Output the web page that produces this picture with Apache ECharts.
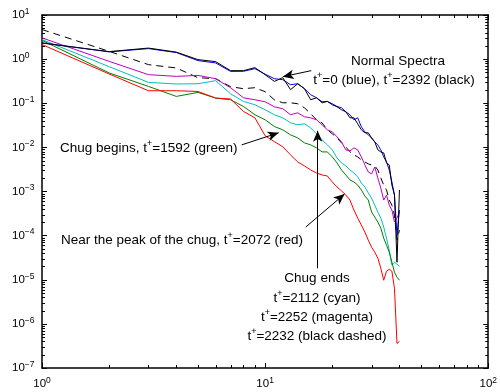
<!DOCTYPE html>
<html><head><meta charset="utf-8">
<script src="https://cdn.jsdelivr.net/npm/echarts@6/dist/echarts.min.js"></script>
<style>html,body{margin:0;padding:0;background:#fff}#c{width:500px;height:392px}</style>
</head><body><div id="c"></div>
<script>
// wavenumber k (x axis)
const wavenumber = [1,2,3,4,5,6,7,8,9,10,11,12,13,14,15,16,17,18,19,20,21,22,23,24,25,26,27,28,29,30,31,32,33,34,35,36,37,38,39,40];
// spectra
const blueT0 = [2.34,1.46,1.73,1.41,0.925,0.82,0.528,0.53,0.608,0.456,0.36,0.342,0.263,0.277,0.214,0.156,0.133,0.108,0.11,0.0975,0.0846,0.079,0.064,0.0548,0.0422,0.0468,0.0292,0.0225,0.0192,0.0164,0.0133,0.0114,0.00877,0.00608,0.00468,0.00308,0.00164,0.00083,0.000103,0.00038];
const blackT2392 = [2.31,1.48,1.78,1.44,0.975,0.877,0.548,0.548,0.641,0.444,0.313,0.38,0.203,0.277,0.214,0.12,0.133,0.1025,0.11,0.0925,0.0832,0.0712,0.064,0.0468,0.0468,0.0342,0.025,0.0214,0.0214,0.0164,0.0133,0.00877,0.0079,0.0075,0.00444,0.004,0.0014,0.00083,0.000025,0.00108];
const dashedT2232 = [4.68,1.50,0.75,0.63,0.38,0.36,0.237,0.214,0.225,0.183,0.12,0.1025,0.1025,0.0975,0.079,0.0577,0.0422,0.036,0.025,0.0203,0.0164,0.01266,0.0103,0.0079,0.00676,0.00608,0.0052,0.00468,0.00422,0.004,0.0038,0.00308,0.00203,0.0014,0.00108,0.00064,0.00049,0.00029,0.000079,0.000133];
const magentaT2252 = [3.03,0.89,0.444,0.407,0.428,0.36,0.225,0.133,0.12,0.108,0.0832,0.075,0.0548,0.0608,0.0493,0.0468,0.0422,0.0325,0.025,0.0225,0.0173,0.0133,0.00877,0.0083,0.00975,0.00877,0.00608,0.004,0.00277,0.0025,0.0036,0.00203,0.0012,0.00064,0.00083,0.00049,0.00038,0.000203,0.00025,0.000342];
const cyanT2112 = [2.77,0.675,0.297,0.273,0.277,0.325,0.164,0.11,0.0925,0.0712,0.0548,0.0468,0.036,0.0325,0.0342,0.0277,0.0203,0.0148,0.0114,0.00877,0.00577,0.00444,0.0038,0.00308,0.00263,0.00214,0.00156,0.00127,0.000925,0.00071,0.00049,0.000342,0.00025,0.000156,0.0000877,0.0000468,0.0000214,0.000025,0.0000225,0.0000203];
const greenT1592 = [2.67,0.486,0.241,0.143,0.176,0.131,0.12,0.0846,0.0548,0.0422,0.0297,0.025,0.0192,0.0164,0.01266,0.0114,0.00975,0.0079,0.0079,0.00608,0.00444,0.00308,0.00237,0.00183,0.00164,0.0014,0.00108,0.00079,0.00064,0.000342,0.000263,0.000203,0.000148,0.0000877,0.0000608,0.0000422,0.000025,0.0000148,0.0000114,0.00000975];
const redT2072 = [2.14,0.461,0.192,0.192,0.185,0.131,0.125,0.0651,0.0468,0.0183,0.0135,0.0103,0.00676,0.00468,0.0038,0.00308,0.00263,0.00237,0.00225,0.00164,0.00127,0.00103,0.00083,0.00064,0.00038,0.00025,0.000173,0.00012,0.000079,0.0000548,0.0000422,0.0000308,0.0000183,0.00000975,0.0000156,0.0000173,0.0000156,0.0000064,0.00000036,0.0000004];
// axis ranges
const xRange = [1, 100];
const yRange = [1e-7, 10];
// annotation arrows, in data coordinates: [from, to]
const arrows = [
  [[16.1, 0.548], [12.0, 0.40]],
  [[7.85, 0.0114], [11.5, 0.0214]],
  [[15.2, 0.000156], [22.7, 0.000877]],
  [[17.2, 0.0000182], [17.2, 0.0237]]
];

(function () {
const FONT = '"Liberation Sans", Arial, Helvetica, sans-serif';
const chart = echarts.init(document.getElementById('c'), null, {renderer: 'canvas'});
function pairs(arr) { return wavenumber.map((k, i) => [k, arr[i]]); }
function expLabel(v) {
  const e = Math.round(Math.log10(v));
  return '{b|10}{s|' + (e < 0 ? '\u2212' + (-e) : e) + '}';
}
const tickRich = {
  b: {fontSize: 11.5, fontFamily: FONT, color: '#000', lineHeight: 16, verticalAlign: 'middle'},
  s: {fontSize: 8.5, fontFamily: FONT, color: '#000', lineHeight: 8, verticalAlign: 'top'}
};
const axisLine = {show: true, lineStyle: {color: '#000', width: 1.5}};
const axisTick = {show: true, inside: true, length: 5, lineStyle: {color: '#000', width: 1}};
function line(name, data, color, dashed) {
  return {
    name, type: 'line', data: pairs(data), showSymbol: false, symbol: 'none',
    lineStyle: {color, width: 1, type: dashed ? [7, 5] : 'solid'},
    itemStyle: {color}, animation: false, silent: true
  };
}
const textRich = {s: {fontSize: 9, fontFamily: FONT, fill: '#000', lineHeight: 9, verticalAlign: 'top'}};
function txt(x, y, text, align) {
  return {type: 'text', x, y, silent: true, style: {
    text, fontSize: 13.5, fontFamily: FONT, fill: '#000', lineHeight: 18,
    align: align || 'center', verticalAlign: 'middle', rich: textRich}};
}
const labelBase = {formatter: expLabel, rich: tickRich, fontSize: 11.5, fontFamily: FONT, color: '#000',
  showMinLabel: true, showMaxLabel: true, hideOverlap: false};

const option = {
  animation: false,
  backgroundColor: '#fff',
  grid: {left: 42, right: 11, top: 15, bottom: 24, containLabel: false},
  xAxis: [
    {type: 'log', logBase: 10, min: xRange[0], max: xRange[1], splitNumber: 2, position: 'bottom',
     axisLine, axisTick, splitLine: {show: false}, minorTick: {show: false},
     axisLabel: Object.assign({margin: 8}, labelBase)},
    {type: 'log', logBase: 10, min: xRange[0], max: xRange[1], splitNumber: 2, position: 'top',
     axisLine, axisTick, splitLine: {show: false}, axisLabel: {show: false}}
  ],
  yAxis: [
    {type: 'log', logBase: 10, min: yRange[0], max: yRange[1], splitNumber: 8, position: 'left',
     axisLine, axisTick, splitLine: {show: false},
     axisLabel: Object.assign({margin: 30, align: 'left'}, labelBase)},
    {type: 'log', logBase: 10, min: yRange[0], max: yRange[1], splitNumber: 8, position: 'right',
     axisLine, axisTick, splitLine: {show: false}, axisLabel: {show: false}}
  ],
  series: [
    line('t+=2232 (black dashed)', dashedT2232, '#000', true),
    line('t+=2252 (magenta)', magentaT2252, '#bf00bf'),
    line('t+=2112 (cyan)', cyanT2112, '#00bfbf'),
    line('t+=1592 (green)', greenT1592, '#008000'),
    line('t+=2072 (red)', redT2072, '#ff0000'),
    line('t+=0 (blue)', blueT0, '#0000ff'),
    line('t+=2392 (black)', blackT2392, '#000'),
    {name: 'arrows', type: 'line', data: [], silent: true,
     markLine: {silent: true, animation: false, symbol: ['none', 'arrow'],
       lineStyle: {color: '#000', width: 1, type: 'solid'}, label: {show: false},
       emphasis: {disabled: true},
       data: arrows.map(a => [{coord: a[0], symbol: 'none'}, {coord: a[1], symbol: 'arrow', symbolSize: [7, 11]}])}}
  ],
  graphic: [
    txt(398, 61, 'Normal Spectra'),
    txt(394, 80, 't{s|+}=0 (blue), t{s|+}=2392 (black)'),
    txt(60, 148, 'Chug begins, t{s|+}=1592 (green)', 'left'),
    txt(61, 240, 'Near the peak of the chug, t{s|+}=2072 (red)', 'left'),
    txt(317, 278, 'Chug ends'),
    txt(317, 298, 't{s|+}=2112 (cyan)'),
    txt(317, 317, 't{s|+}=2252 (magenta)'),
    txt(317, 336.5, 't{s|+}=2232 (black dashed)')
  ]
};
chart.setOption(option);

// minor ticks on a log axis (2..9 x each decade), placed through the axis scales
const minor = [];
const gLeft = chart.convertToPixel({xAxisIndex: 0}, xRange[0]);
const gRight = chart.convertToPixel({xAxisIndex: 0}, xRange[1]);
const gBottom = chart.convertToPixel({yAxisIndex: 0}, yRange[0]);
const gTop = chart.convertToPixel({yAxisIndex: 0}, yRange[1]);
const ML = 3;
for (let d = 1; d < 100; d *= 10) {
  for (let m = 2; m <= 9; m++) {
    const px = Math.round(chart.convertToPixel({xAxisIndex: 0}, m * d)) + 0.5;
    minor.push({type: 'line', silent: true, shape: {x1: px, y1: gBottom, x2: px, y2: gBottom - ML}, style: {stroke: '#000', lineWidth: 1}});
    minor.push({type: 'line', silent: true, shape: {x1: px, y1: gTop, x2: px, y2: gTop + ML}, style: {stroke: '#000', lineWidth: 1}});
  }
}
for (let e = -7; e < 1; e++) {
  for (let m = 2; m <= 9; m++) {
    const py = Math.round(chart.convertToPixel({yAxisIndex: 0}, m * Math.pow(10, e))) + 0.5;
    minor.push({type: 'line', silent: true, shape: {x1: gLeft, y1: py, x2: gLeft + ML, y2: py}, style: {stroke: '#000', lineWidth: 1}});
    minor.push({type: 'line', silent: true, shape: {x1: gRight, y1: py, x2: gRight - ML, y2: py}, style: {stroke: '#000', lineWidth: 1}});
  }
}
chart.setOption({graphic: option.graphic.concat(minor)});
})();
</script>
</body></html>
